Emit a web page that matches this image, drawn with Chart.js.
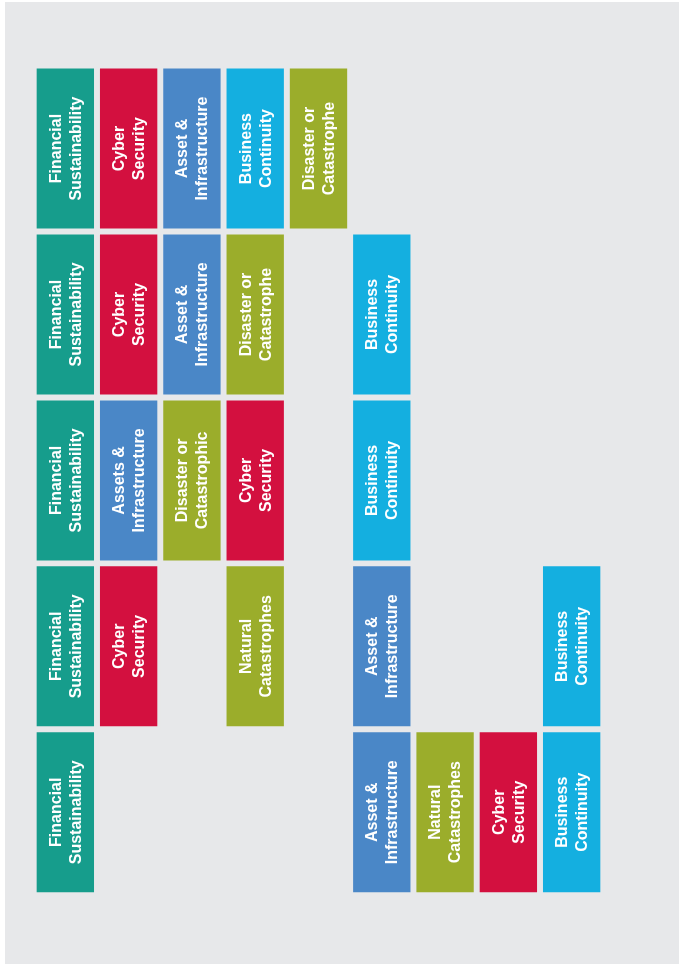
<!DOCTYPE html>
<html>
<head>
<meta charset="utf-8">
<script src="https://cdn.jsdelivr.net/npm/chart.js@4"></script>
<style>
  body { margin: 0; background: #ffffff; }
  #wrap { position: relative; width: 685px; height: 966px; }
  #bg { position: absolute; left: 5px; top: 2px; width: 674px; height: 962px; background: #e7e8ea; }
  #chart { position: absolute; left: 0; top: 0; }
</style>
</head>
<body>
<div id="wrap">
  <div id="bg"></div>
  <canvas id="chart" width="685" height="966"></canvas>
</div>
<script>
// column slots, left to right
const columns = ['1', '2', '3', '4', '5', '6', '7', '8', '9'];

// one list per row of boxes (top to bottom), null = empty slot
const row1 = ['Financial\nSustainability', 'Cyber\nSecurity', 'Asset &\nInfrastructure', 'Business\nContinuity', 'Disaster or\nCatastrophe', null, null, null, null];
const row2 = ['Financial\nSustainability', 'Cyber\nSecurity', 'Asset &\nInfrastructure', 'Disaster or\nCatastrophe', null, 'Business\nContinuity', null, null, null];
const row3 = ['Financial\nSustainability', 'Assets &\nInfrastructure', 'Disaster or\nCatastrophic', 'Cyber\nSecurity', null, 'Business\nContinuity', null, null, null];
const row4 = ['Financial\nSustainability', 'Cyber\nSecurity', null, 'Natural\nCatastrophes', null, 'Asset &\nInfrastructure', null, null, 'Business\nContinuity'];
const row5 = ['Financial\nSustainability', null, null, null, null, 'Asset &\nInfrastructure', 'Natural\nCatastrophes', 'Cyber\nSecurity', 'Business\nContinuity'];

const rows = [row1, row2, row3, row4, row5];

const bgColor = '#e7e8ea';
const themeColors = {
  Financial: '#169d8c',
  Cyber: '#d3103f',
  Asset: '#4a87c7',
  Business: '#14afe0',
  Disaster: '#9bad2b',
  Natural: '#9bad2b'
};

function colorFor(label) {
  if (!label) return 'rgba(0,0,0,0)';
  for (const key in themeColors) {
    if (label.indexOf(key) === 0) return themeColors[key];
  }
  return '#999999';
}

const datasets = rows.map((row, i) => ({
  label: 'Row ' + (i + 1),
  data: row.map(label => label ? [i, i + 1] : null),
  names: row,
  backgroundColor: row.map(colorFor),
  borderColor: bgColor,
  borderWidth: 3.3,
  borderSkipped: false,
  grouped: false,
  barPercentage: 1,
  categoryPercentage: 1
}));

// write each box's name rotated, reading bottom to top
const boxLabels = {
  id: 'boxLabels',
  afterDatasetsDraw(chart) {
    const ctx = chart.ctx;
    ctx.save();
    ctx.fillStyle = '#ffffff';
    ctx.font = 'bold 16px "Liberation Sans", Arial, sans-serif';
    ctx.textAlign = 'center';
    ctx.textBaseline = 'middle';
    chart.data.datasets.forEach((ds, di) => {
      const meta = chart.getDatasetMeta(di);
      meta.data.forEach((bar, j) => {
        const name = ds.names[j];
        if (!name) return;
        const p = bar.getProps(['x', 'y', 'base'], true);
        const cy = (p.y + p.base) / 2;
        const lines = name.split('\n');
        ctx.save();
        ctx.translate(p.x, cy);
        ctx.rotate(-Math.PI / 2);
        lines.forEach((line, k) => {
          const off = (k - (lines.length - 1) / 2) * 20;
          ctx.fillText(line, 0, off + 1);
        });
        ctx.restore();
      });
    });
    ctx.restore();
  }
};

new Chart(document.getElementById('chart'), {
  type: 'bar',
  data: { labels: columns, datasets: datasets },
  options: {
    responsive: false,
    animation: false,
    layout: { padding: { left: 33.7, right: 81.7, top: 65.6, bottom: 70.8 } },
    scales: {
      x: { display: false, offset: true },
      y: { display: false, min: 0, max: 5, reverse: true }
    },
    plugins: {
      legend: { display: false },
      tooltip: { enabled: false }
    }
  },
  plugins: [boxLabels]
});
</script>
</body>
</html>
